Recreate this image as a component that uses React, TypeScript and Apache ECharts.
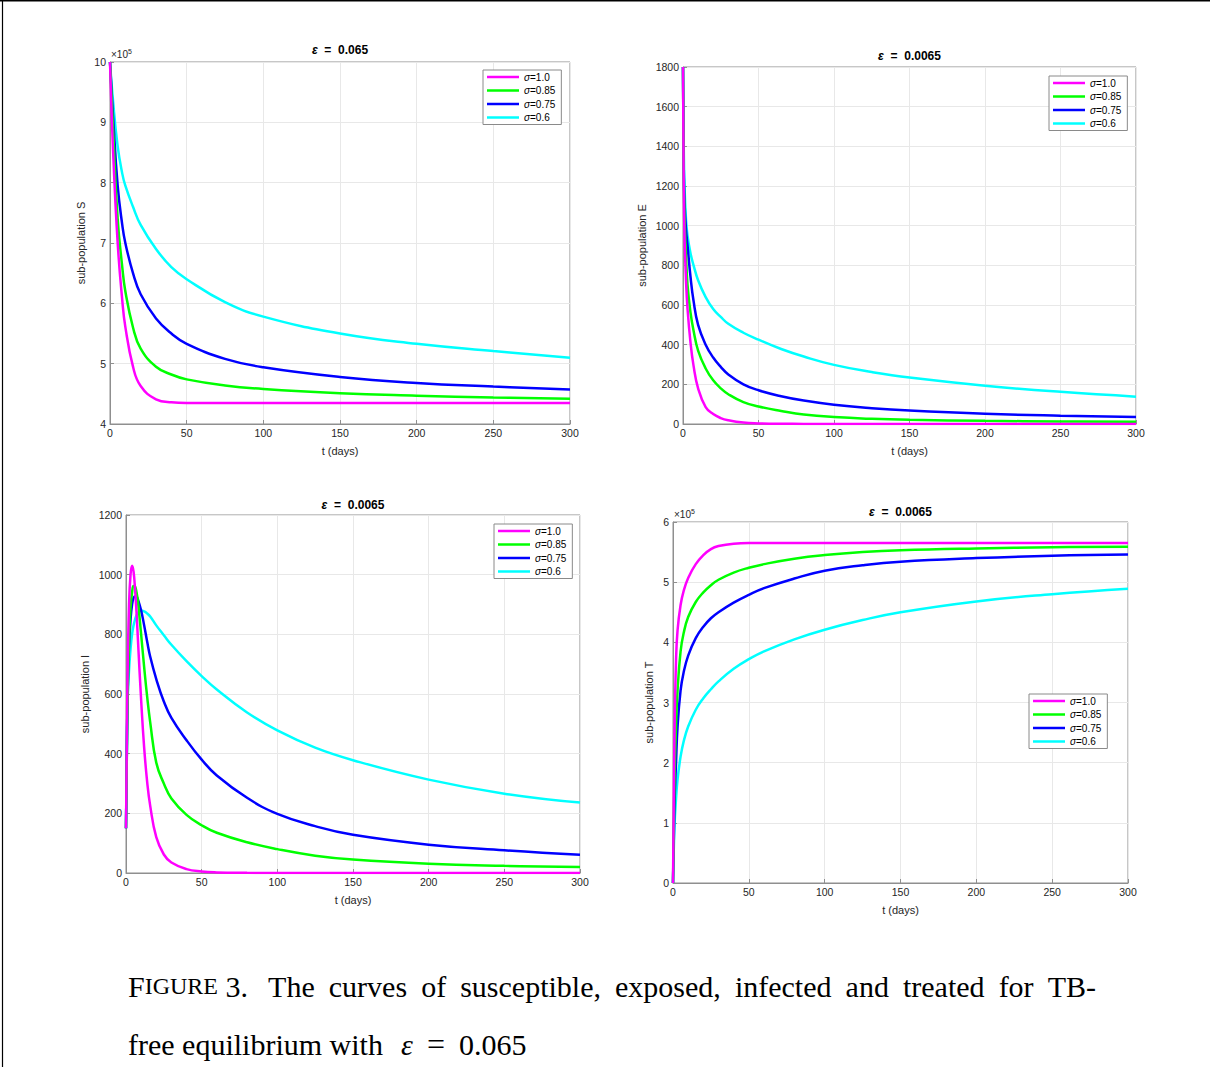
import React, { useEffect, useRef } from 'react';
import * as echarts from 'echarts';

// ---------- data ----------
const SIGMA_LABELS = ['σ=1.0', 'σ=0.85', 'σ=0.75', 'σ=0.6'];
const X_TICK_STEP = 50;

// Susceptible (×10^5)
const tS = [0, 2, 5, 8, 10, 15, 20, 30, 40, 50, 75, 100, 150, 200, 250, 300];
const S_100 = [10, 8.53, 7.0, 6.05, 5.61, 4.95, 4.63, 4.41, 4.36, 4.35, 4.35, 4.35, 4.35, 4.35, 4.35, 4.35];
const S_085 = [10, 8.9, 7.4, 6.6, 6.2, 5.6, 5.25, 4.95, 4.82, 4.74, 4.64, 4.58, 4.51, 4.47, 4.44, 4.42];
const S_075 = [10, 9.1, 7.95, 7.3, 7.0, 6.5, 6.15, 5.75, 5.5, 5.33, 5.08, 4.94, 4.78, 4.68, 4.62, 4.57];
const S_060 = [10, 9.35, 8.6, 8.15, 7.95, 7.6, 7.3, 6.9, 6.6, 6.4, 6.02, 5.78, 5.5, 5.33, 5.21, 5.1];

// Exposed
const tE = [0, 0.5, 1, 2, 3, 5, 7, 10, 15, 20, 25, 30, 40, 50, 65, 80, 100, 125, 150, 200, 250, 300];
const E_100 = [1800, 1200, 950, 720, 580, 408, 293, 180, 85, 50, 30, 19, 7, 3, 1, 0.5, 0, 0, 0, 0, 0, 0];
const E_085 = [1800, 1250, 1050, 850, 700, 560, 470, 370, 280, 220, 180, 150, 110, 88, 66, 48, 35, 26, 21, 16, 13, 11];
const E_075 = [1800, 1300, 1120, 980, 900, 740, 620, 500, 400, 335, 288, 250, 200, 170, 140, 118, 97, 80, 68, 52, 42, 35];
const E_060 = [1800, 1400, 1200, 1030, 950, 860, 800, 725, 640, 580, 540, 505, 460, 425, 378, 340, 298, 262, 234, 193, 162, 138];

// Infected
const tI = [0, 1, 2, 3, 4, 5, 6, 7, 8, 10, 12, 14, 16, 20, 25, 30, 40, 50, 60, 80, 100, 125, 150, 200, 250, 300];
const I_100 = [150, 650, 900, 1000, 1030, 1010, 950, 870, 770, 580, 420, 305, 225, 120, 62, 35, 13, 5, 2, 0.5, 0, 0, 0, 0, 0, 0];
const I_085 = [150, 560, 780, 890, 940, 962, 960, 940, 905, 800, 690, 590, 505, 370, 300, 250, 195, 160, 135, 103, 80, 58, 45, 31, 24, 20];
const I_075 = [150, 580, 760, 850, 900, 922, 928, 926, 915, 880, 830, 775, 725, 650, 575, 520, 445, 380, 327, 252, 198, 157, 128, 95, 76, 61];
const I_060 = [150, 560, 680, 750, 800, 830, 850, 865, 873, 880, 877, 870, 860, 830, 797, 765, 710, 660, 615, 538, 478, 420, 378, 313, 266, 236];

// Treated (×10^5)
const tT = [0, 1, 2, 3, 5, 7, 10, 15, 20, 25, 30, 40, 50, 60, 80, 100, 125, 150, 200, 250, 300];
const T_100 = [0, 2.5, 3.7, 4.2, 4.62, 4.85, 5.07, 5.3, 5.45, 5.55, 5.6, 5.64, 5.65, 5.65, 5.65, 5.65, 5.65, 5.65, 5.65, 5.65, 5.65];
const T_085 = [0, 1.7, 2.6, 3.2, 3.85, 4.15, 4.42, 4.67, 4.83, 4.95, 5.04, 5.16, 5.24, 5.3, 5.39, 5.45, 5.5, 5.53, 5.56, 5.58, 5.59];
const T_075 = [0, 1.3, 2.0, 2.6, 3.2, 3.5, 3.78, 4.07, 4.26, 4.4, 4.5, 4.66, 4.79, 4.9, 5.06, 5.19, 5.28, 5.34, 5.4, 5.44, 5.46];
const T_060 = [0, 0.95, 1.4, 1.72, 2.1, 2.35, 2.6, 2.88, 3.07, 3.22, 3.35, 3.56, 3.72, 3.85, 4.05, 4.21, 4.37, 4.5, 4.68, 4.8, 4.89];

const PANELS = [
  { t: tS, ys: [S_100, S_085, S_075, S_060], yName: 'sub-population S', title: '0.065', yMin: 4, yMax: 10, yStep: 1, mult: true },
  { t: tE, ys: [E_100, E_085, E_075, E_060], yName: 'sub-population E', title: '0.0065', yMin: 0, yMax: 1800, yStep: 200, mult: false },
  { t: tI, ys: [I_100, I_085, I_075, I_060], yName: 'sub-population I', title: '0.0065', yMin: 0, yMax: 1200, yStep: 200, mult: false },
  { t: tT, ys: [T_100, T_085, T_075, T_060], yName: 'sub-population T', title: '0.0065', yMin: 0, yMax: 6, yStep: 1, mult: true },
];

const CAPTION_LINE1 = ['FIGURE 3.', 'The', 'curves', 'of', 'susceptible,', 'exposed,', 'infected', 'and', 'treated', 'for', 'TB-'];
const CAPTION_LINE2 = 'free equilibrium with';
const CAPTION_EPS = '0.065';

// ---------- layout / style ----------
const COLORS = ['#ff00ff', '#00ff00', '#0000ff', '#00ffff'];
const LAYOUT = [
  { left: 110, top: 62, width: 460, height: 362, yGap: 24, legend: [483, 70], titleY: 50 },
  { left: 683, top: 67, width: 453, height: 357, yGap: 36, legend: [1049, 76], titleY: 56 },
  { left: 126, top: 515, width: 454, height: 358, yGap: 36, legend: [494, 524], titleY: 505 },
  { left: 673, top: 522, width: 455, height: 361, yGap: 19, legend: [1029, 694], titleY: 512 },
];
const FONT = '"Liberation Sans", Arial, Helvetica, sans-serif';
const SERIF = '"Liberation Serif", "Times New Roman", Times, serif';
const AX = '#262626';
const BOX = '#8f8f8f';
const CAP = 30;
const CAP_SMALL = 24;

function measure(text: string, font: string): number {
  const c = document.createElement('canvas').getContext('2d');
  if (!c) return text.length * 12;
  c.font = font;
  return c.measureText(text).width;
}

export default function App() {
  const ref = useRef<HTMLDivElement>(null);
  useEffect(() => {
    if (!ref.current) return;
    const chart = echarts.init(ref.current, null, { renderer: 'svg' });

    const grid: any[] = [];
    const xAxis: any[] = [];
    const yAxis: any[] = [];
    const legend: any[] = [];
    const series: any[] = [];
    const graphic: any[] = [];

    PANELS.forEach((p, i) => {
      const L = LAYOUT[i];
      grid.push({ left: L.left, top: L.top, width: L.width, height: L.height, show: true, borderColor: BOX, borderWidth: 1, backgroundColor: 'transparent' });
      xAxis.push({
        type: 'value', gridIndex: i, min: 0, max: 300, interval: X_TICK_STEP,
        name: 't (days)', nameLocation: 'middle', nameGap: 21,
        nameTextStyle: { fontSize: 11, color: AX, fontFamily: FONT },
        axisLine: { show: true, lineStyle: { color: BOX } },
        axisTick: { show: true, inside: true, length: 4, lineStyle: { color: BOX } },
        axisLabel: { fontSize: 10.5, color: AX, margin: 3, fontFamily: FONT, formatter: (v: number) => String(v) },
        splitLine: { show: true, lineStyle: { color: '#e8e8e8' } },
      });
      yAxis.push({
        type: 'value', gridIndex: i, min: p.yMin, max: p.yMax, interval: p.yStep,
        name: p.yName, nameLocation: 'middle', nameGap: L.yGap, nameRotate: 90,
        nameTextStyle: { fontSize: 11, color: AX, fontFamily: FONT },
        axisLine: { show: true, lineStyle: { color: BOX } },
        axisTick: { show: true, inside: true, length: 4, lineStyle: { color: BOX } },
        axisLabel: { fontSize: 10.5, color: AX, margin: 4, fontFamily: FONT, formatter: (v: number) => String(v) },
        splitLine: { show: true, lineStyle: { color: '#e8e8e8' } },
      });
      legend.push({
        data: SIGMA_LABELS, orient: 'vertical', left: L.legend[0], top: L.legend[1],
        icon: 'rect', itemWidth: 32, itemHeight: 2.5, itemGap: 3.5,
        backgroundColor: '#fff', borderColor: '#8a8a8a', borderWidth: 1, padding: [2, 6, 2, 4],
        selectedMode: false,
        formatter: (n: string) => '{i|σ}{n|' + n.slice(1) + '}',
        textStyle: {
          fontSize: 10, color: '#000', fontFamily: FONT,
          rich: { i: { fontStyle: 'italic', fontSize: 10, fontFamily: FONT }, n: { fontSize: 10, fontFamily: FONT } },
        },
      });
      p.ys.forEach((ys, k) => {
        series.push({
          type: 'line', name: SIGMA_LABELS[k], xAxisIndex: i, yAxisIndex: i,
          data: p.t.map((t, j) => [t, ys[j]]),
          showSymbol: false, symbol: 'none', smooth: 0.45,
          color: COLORS[k], lineStyle: { width: 2.5, color: COLORS[k] },
          z: 10 - k, silent: true,
        });
      });
      graphic.push({
        type: 'text', x: L.left + L.width / 2, y: L.titleY,
        style: {
          text: '{e|ε}{b|  =  ' + p.title + '}', align: 'center', verticalAlign: 'middle', fill: '#000',
          rich: {
            e: { fontSize: 12, fontWeight: 'bold', fontStyle: 'italic', fontFamily: FONT, fill: '#000' },
            b: { fontSize: 12, fontWeight: 'bold', fontFamily: FONT, fill: '#000' },
          },
        },
      });
      if (p.mult) {
        graphic.push({
          type: 'text', x: L.left + 1, y: L.top - 8,
          style: {
            text: '{a|×10}{s|5}', align: 'left', verticalAlign: 'middle', fill: AX,
            rich: {
              a: { fontSize: 10, fontFamily: FONT, fill: AX },
              s: { fontSize: 7, fontFamily: FONT, fill: AX, padding: [0, 0, 6, 0] },
            },
          },
        });
      }
    });

    // outer frame
    graphic.push({ type: 'line', shape: { x1: 0, y1: 0.75, x2: 1210, y2: 0.75 }, style: { stroke: '#000', lineWidth: 1.5 } });
    graphic.push({ type: 'line', shape: { x1: 2.5, y1: 0, x2: 2.5, y2: 1067 }, style: { stroke: '#000', lineWidth: 1.2 } });

    // caption line 1, justified between x=128 and x=1096
    const big = CAP + 'px ' + SERIF;
    const small = CAP_SMALL + 'px ' + SERIF;
    const widths = CAPTION_LINE1.map((w, idx) => {
      if (idx === 0) return measure('F', big) + measure('IGURE', small) + measure(' 3.', big);
      return measure(w, big);
    });
    const total = widths.reduce((a, b) => a + b, 0);
    const gap = (1096 - 128 - total - 6) / (CAPTION_LINE1.length - 1);
    let cx = 128;
    CAPTION_LINE1.forEach((w, idx) => {
      const text = idx === 0 ? '{a|F}{s|IGURE}{a| 3.}' : '{a|' + w + '}';
      graphic.push({
        type: 'text', x: cx, y: 986,
        style: {
          text, align: 'left', verticalAlign: 'middle', fill: '#000',
          rich: {
            a: { fontSize: CAP, fontFamily: SERIF, fill: '#000' },
            s: { fontSize: CAP_SMALL, fontFamily: SERIF, fill: '#000' },
          },
        },
      });
      cx += widths[idx] + gap + (idx === 0 ? 6 : 0);
    });
    // caption line 2
    graphic.push({ type: 'text', x: 128, y: 1044, style: { text: CAPTION_LINE2, align: 'left', verticalAlign: 'middle', fill: '#000', font: big } });
    graphic.push({ type: 'text', x: 401, y: 1044, style: { text: 'ε', align: 'left', verticalAlign: 'middle', fill: '#000', font: 'italic ' + big } });
    graphic.push({ type: 'text', x: 427, y: 1044, style: { text: '=', align: 'left', verticalAlign: 'middle', fill: '#000', font: '32px ' + SERIF } });
    graphic.push({ type: 'text', x: 459, y: 1044, style: { text: CAPTION_EPS, align: 'left', verticalAlign: 'middle', fill: '#000', font: big } });

    chart.setOption({
      animation: false,
      backgroundColor: '#fff',
      grid, xAxis, yAxis, legend, series, graphic,
    });
    return () => chart.dispose();
  }, []);

  return <div ref={ref} style={{ position: 'absolute', left: 0, top: 0, width: 1210, height: 1067 }} />;
}
